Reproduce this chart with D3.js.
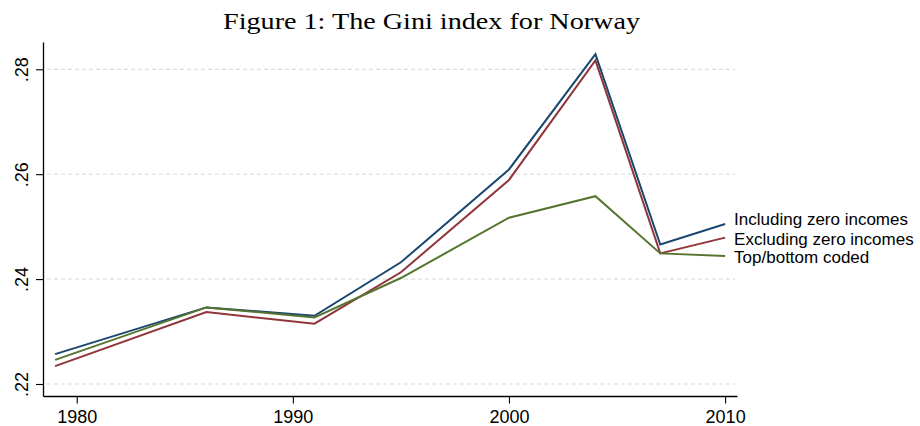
<!DOCTYPE html>
<html>
<head>
<meta charset="utf-8">
<script src="https://cdn.jsdelivr.net/npm/d3@7.9.0/dist/d3.min.js"></script>
<style>
  html, body { margin: 0; padding: 0; background: #fff; }
  svg { display: block; }
</style>
</head>
<body>
<svg id="chart" width="920" height="426"></svg>
<script>
// Data
const years = [1979, 1986, 1991, 1995, 2000, 2004, 2007, 2010];
const includingZero = [0.2257, 0.2346, 0.2330, 0.2432, 0.2609, 0.2829, 0.2466, 0.2505];
const excludingZero = [0.2234, 0.2337, 0.2315, 0.2413, 0.2589, 0.2817, 0.2449, 0.2479];
const topBottomCoded = [0.2246, 0.2346, 0.2327, 0.2402, 0.2517, 0.2558, 0.2449, 0.2444];
const seriesNames = ["Including zero incomes", "Excluding zero incomes", "Top/bottom coded"];
const xTicks = [1980, 1990, 2000, 2010];
const yTicks = [0.22, 0.24, 0.26, 0.28];
const titleText = "Figure 1: The Gini index for Norway";

const colors = ["#1a476f", "#90353b", "#55752f"];
const series = [includingZero, excludingZero, topBottomCoded].map((vals, i) => ({
  name: seriesNames[i],
  color: colors[i],
  points: years.map((yr, j) => ({ year: yr, value: vals[j] }))
}));

const svg = d3.select('#chart');

// scales (domains padded so axis lines match the Stata plot region)
const x = d3.scaleLinear().domain([1978.44, 2010.55]).range([43, 737]);
const y = d3.scaleLinear().domain([0.21771, 0.2852]).range([396, 42]);

// title
svg.append('text')
  .attr('x', 431.5)
  .attr('y', 29)
  .attr('text-anchor', 'middle')
  .attr('font-family', '"Liberation Serif", serif')
  .attr('font-size', 24)
  .attr('textLength', 417)
  .attr('lengthAdjust', 'spacingAndGlyphs')
  .text(titleText);

// gridlines
svg.append('g')
  .selectAll('line')
  .data(yTicks)
  .join('line')
  .attr('x1', 47)
  .attr('x2', 735)
  .attr('y1', d => y(d))
  .attr('y2', d => y(d))
  .attr('stroke', '#d6d6d6')
  .attr('stroke-width', 1)
  .attr('stroke-dasharray', '4,3');

// x axis
const xAxis = svg.append('g')
  .attr('transform', 'translate(0,396)')
  .call(d3.axisBottom(x).tickValues(xTicks).tickFormat(d3.format('d')).tickSize(7.5).tickSizeOuter(0).tickPadding(7));
xAxis.select('.domain').attr('stroke', '#000').attr('stroke-width', 1.3);
xAxis.selectAll('.tick line').attr('stroke', '#000').attr('stroke-width', 1.1);
xAxis.selectAll('.tick text')
  .attr('font-family', '"Liberation Sans", Arial, sans-serif')
  .attr('font-size', 18)
  .attr('fill', '#000');

// y axis
const yAxis = svg.append('g')
  .attr('transform', 'translate(43,0)')
  .call(d3.axisLeft(y).tickValues(yTicks).tickFormat(d => d3.format('.2f')(d).replace(/^0/, '')).tickSize(7).tickSizeOuter(0));
yAxis.select('.domain').attr('stroke', '#000').attr('stroke-width', 1.3);
yAxis.selectAll('.tick line').attr('stroke', '#000').attr('stroke-width', 1.1);
yAxis.selectAll('.tick text')
  .attr('font-family', '"Liberation Sans", Arial, sans-serif')
  .attr('font-size', 18)
  .attr('fill', '#000')
  .attr('text-anchor', 'middle')
  .attr('x', null)
  .attr('dy', null)
  .attr('transform', 'translate(-15.5,0) rotate(-90)');

// lines
const line = d3.line().x(d => x(d.year)).y(d => y(d.value));
svg.append('g')
  .selectAll('path')
  .data(series)
  .join('path')
  .attr('fill', 'none')
  .attr('stroke', d => d.color)
  .attr('stroke-width', 2)
  .attr('stroke-linejoin', 'miter')
  .attr('d', d => line(d.points));

// end-of-line labels (nudged like the original so they don't overlap)
const labelNudge = [-4.7, 1.6, 1.0];
svg.append('g')
  .selectAll('text')
  .data(series)
  .join('text')
  .attr('x', d => x(d.points[d.points.length - 1].year) + 9)
  .attr('y', (d, i) => y(d.points[d.points.length - 1].value) + labelNudge[i])
  .attr('dy', '0.35em')
  .attr('font-family', '"Liberation Sans", Arial, sans-serif')
  .attr('font-size', 17)
  .attr('fill', '#000')
  .text(d => d.name);
</script>
</body>
</html>
